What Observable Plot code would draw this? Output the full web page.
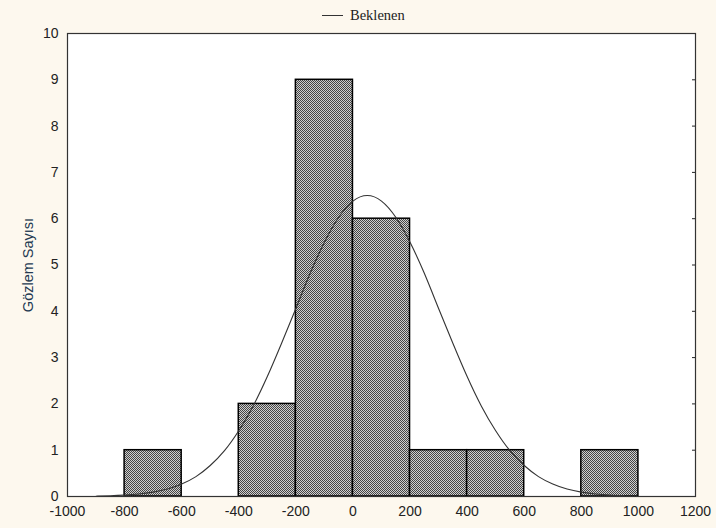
<!DOCTYPE html>
<html><head><meta charset="utf-8">
<script src="https://cdn.jsdelivr.net/npm/d3@7"></script>
<script src="https://cdn.jsdelivr.net/npm/@observablehq/plot@0.6"></script>
<style>
html,body{margin:0;padding:0;background:#fdf8ee;}
#wrap{position:relative;width:716px;height:528px;}
#legend{position:absolute;left:322px;top:5px;height:20px;font-family:"Liberation Serif",serif;font-size:14.5px;color:#222;display:flex;align-items:center;}
#legend span.l{display:inline-block;width:21px;border-top:1px solid #333;margin-right:7px;}
#chart{position:absolute;left:0;top:26px;}
</style></head>
<body><div id="wrap"><div id="legend"><span class="l"></span>Beklenen</div><div id="chart"></div></div>
<script>
const binStart = [-800, -400, -200, 0, 200, 400, 800];
const binEnd   = [-600, -200, 0, 200, 400, 600, 1000];
const counts   = [1, 2, 9, 6, 1, 1, 1];
const curveX = [-900,-850,-800,-750,-700,-650,-600,-550,-500,-450,-400,-350,-300,-250,-200,-150,-100,-50,0,50,100,150,200,250,300,350,400,450,500,550,600,650,700,750,800,850,900,950];
const curveY = [0.007,0.015,0.029,0.053,0.095,0.16,0.27,0.43,0.67,0.99,1.42,1.95,2.59,3.31,4.06,4.82,5.49,6.03,6.38,6.5,6.38,6.03,5.49,4.82,4.06,3.31,2.59,1.95,1.42,0.99,0.67,0.43,0.27,0.16,0.095,0.053,0.029,0.015];
const xTicks = [-1000,-800,-600,-400,-200,0,200,400,600,800,1000,1200];
const yTicks = [0,1,2,3,4,5,6,7,8,9,10];

const bars = binStart.map((s,i)=>({x1:s, x2:binEnd[i], y:counts[i]}));
const curve = curveX.map((x,i)=>({x, y:curveY[i]}));
const fmt = d => String(d);

const chart = Plot.plot({
  width: 716, height: 502,
  marginLeft: 67, marginRight: 21, marginTop: 7, marginBottom: 32,
  style: {fontFamily: "'Liberation Sans', Arial, sans-serif", fontSize: "14px", background: "transparent", color: "#222"},
  x: {domain: [-1000, 1200]},
  y: {domain: [0, 10]},
  marks: [
    Plot.rect([0], {x1: -1000, x2: 1200, y1: 0, y2: 10, fill: "white"}),
    Plot.rectY(bars, {x1: "x1", x2: "x2", y: "y", fill: "url(#chk)", stroke: "#000", strokeWidth: 1.5}),
    Plot.line(curve, {x: "x", y: "y", stroke: "#333", strokeWidth: 1.1, curve: "natural"}),
    Plot.axisX({ticks: xTicks, tickFormat: fmt, tickSize: 0, tickPadding: 10, label: null, fontSize: 14}),
    Plot.axisY({ticks: yTicks, tickFormat: fmt, tickSize: 0, tickPadding: 9, label: null, fontSize: 14}),
    Plot.axisY({ticks: yTicks, anchor: "left", tickSize: 0, text: null, label: "Gözlem Sayısı", labelAnchor: "center", labelArrow: "none", labelOffset: 45, fontSize: 14.5}),
    Plot.axisY({ticks: yTicks, anchor: "right", tickSize: -4, text: null, label: null, stroke: "#222"}),
    Plot.frame({stroke: "#333", strokeWidth: 1.2})
  ]
});
const ns = "http://www.w3.org/2000/svg";
const defs = document.createElementNS(ns, "defs");
defs.innerHTML = '<pattern id="chk" width="2" height="2" patternUnits="userSpaceOnUse"><rect width="2" height="2" fill="#cfcfcf"/><rect width="1" height="1" fill="#454545"/><rect x="1" y="1" width="1" height="1" fill="#454545"/></pattern>';
chart.insertBefore(defs, chart.firstChild);
chart.querySelectorAll("g[aria-label='y-axis label'] text").forEach(t=>t.setAttribute("fill","#243a52"));
document.getElementById("chart").appendChild(chart);
</script></body></html>
